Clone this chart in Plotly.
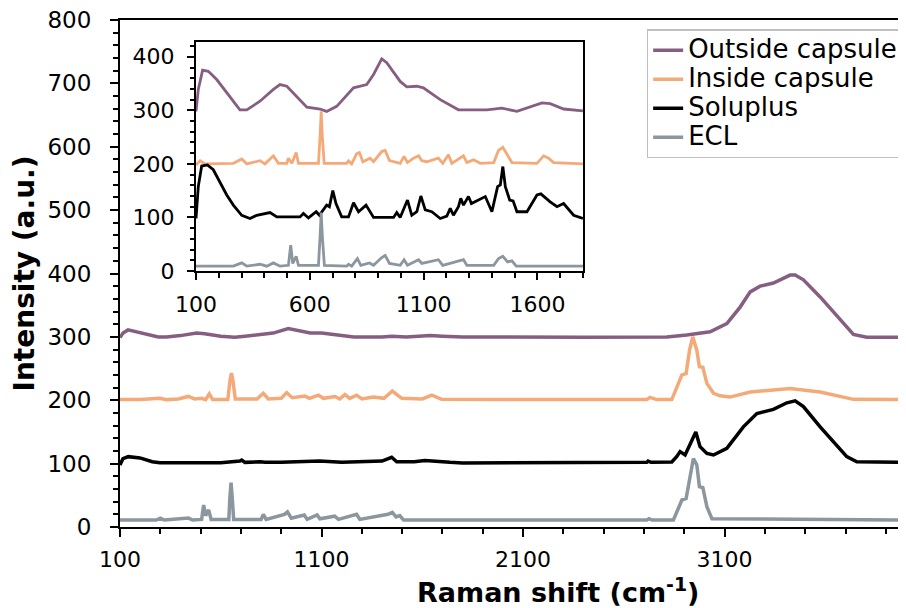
import plotly.graph_objects as go

# ---------------- main panel data (full range) ----------------
outside_x = [100, 115, 140, 170, 230, 290, 330, 400, 480, 520, 600, 670, 720, 800, 860, 935, 1000, 1044, 1100, 1180,
             1260, 1400, 1450, 1520, 1640, 1700, 1800, 2400, 2813, 2912, 2960, 3028, 3111, 3177, 3227, 3276, 3342,
             3425, 3450, 3491, 3574, 3657, 3706, 3739, 3805, 4000]
outside_y = [299, 306, 311, 309, 304, 300, 300, 302, 306, 305, 301, 299.5, 301, 304, 306, 313, 308, 306, 306, 303,
             300, 300, 301, 300, 302, 301, 300, 299.5, 300, 303, 305.5, 308, 321, 347, 371, 380, 385,
             397.5, 397.5, 390, 363, 334, 316, 304, 299.5, 299.5]

inside_x = [100, 200, 298, 330, 389, 439, 470, 505, 525, 543, 560, 635, 646, 653, 660, 672, 780, 811, 836, 900, 927,
            955, 1018, 1040, 1084, 1110, 1167, 1190, 1216, 1240, 1274, 1300, 1357, 1410, 1451, 1498, 1600, 1647, 1696,
            2200, 2714, 2730, 2763, 2838, 2862, 2888, 2909, 2926, 2942, 2962, 2975, 2992, 3012, 3045, 3078, 3127,
            3227, 3425, 3574, 3739, 4000]
inside_y = [201, 201, 203, 201, 202, 206, 202, 203, 201, 210, 201, 201, 232, 243, 232, 202, 202, 211, 202, 203, 212,
            204, 206.5, 203, 208, 203, 206, 202, 209, 203, 208, 202, 205, 203, 214.5, 203, 202, 208, 201.5,
            201, 201, 204.5, 201, 201, 218.7, 240, 242, 279, 300, 279, 253, 252, 226.6, 211, 207, 205,
            213, 218.7, 213, 201.4, 201]

solu_x = [100, 115, 141, 199, 260, 298, 600, 650, 695, 704, 720, 795, 820, 900, 1026, 1090, 1200, 1300, 1400, 1448,
          1473, 1560, 1613, 1737, 1800, 2714, 2720, 2735, 2838, 2862, 2879, 2904, 2937, 2957, 2978, 3012, 3045,
          3111, 3193, 3260, 3342, 3409, 3450, 3491, 3574, 3657, 3706, 3756, 4000]
solu_y = [98, 108, 111, 109, 103, 101.4, 101.5, 102.5, 104, 105.7, 102, 103, 102, 102, 103, 104, 102, 103, 104, 110,
          103, 103, 105, 102, 101, 102, 104, 102, 102.5, 111, 119, 113.6, 137, 150, 126.7, 116, 113.6,
          124, 158, 179, 185.6, 196, 199, 190, 158, 129, 111, 103, 102]

ecl_x = [100, 280, 300, 320, 440, 460, 505, 515, 525, 540, 552, 640, 645, 651, 657, 664, 800, 811, 825, 916, 931,
         950, 1014, 1029, 1078, 1092, 1165, 1184, 1274, 1290, 1430, 1451, 1470, 1488, 1507, 2714, 2725, 2740, 2846,
         2866, 2888, 2909, 2929, 2945, 2962, 2975, 2992, 3012, 3037, 4000]
ecl_y = [11, 11, 14, 11, 14, 11, 12, 34.7, 18, 27, 12, 12, 45, 70, 45, 12, 12, 20, 12, 20, 24,
         14, 19, 12, 19, 13, 17, 12, 20, 12, 20, 23, 16, 18, 11, 11, 13, 11, 11,
         27, 42.6, 45, 84.7, 108, 98, 63.6, 62, 32, 13, 11]

# ---------------- inset data (fingerprint region, rescaled) ----------------
in_out_x = [100, 110, 129, 154, 191, 235, 293, 323, 381, 440, 469, 499, 543, 587, 645, 674, 718, 792, 850, 880, 916,
            938, 997, 1026, 1070, 1099, 1173, 1253, 1378, 1444, 1510, 1568, 1620, 1656, 1715, 1800]
in_out_y = [298, 339, 375, 373, 357.5, 332.5, 301, 301, 317, 339, 348, 345, 326, 306, 302.5, 298, 307.5, 342, 348,
            367, 396, 389, 354, 344, 345, 342, 320, 301, 301, 304, 298, 306, 314, 312.5, 302.5, 299]

in_in_x = [100, 118, 140, 264, 301, 323, 381, 403, 440, 462, 499, 506, 521, 540, 550, 638, 645, 650, 655, 663, 762,
           770, 784, 806, 818, 833, 865, 880, 916, 931, 950, 997, 1014, 1029, 1056, 1078, 1092, 1114, 1165, 1184,
           1209, 1224, 1275, 1290, 1319, 1349, 1408, 1429, 1448, 1466, 1488, 1598, 1627, 1649, 1671, 1800]
in_in_y = [198, 205.6, 200, 201, 209, 200, 206, 200, 215, 201, 201, 210.6, 201, 221, 201, 201, 251, 298, 251, 201, 201,
           205.6, 200, 219, 221, 204, 210.6, 204, 223, 225, 206, 201, 214, 202.5, 210.6, 215, 206, 204, 210.6, 201,
           217, 201, 215, 202.5, 207.5, 201, 202.5, 225, 231, 217, 202.5, 201, 215, 210.6, 202.5, 200]

in_solu_x = [100, 110, 125, 150, 176, 206, 235, 264, 301, 337, 367, 425, 455, 557, 572, 594, 628, 642, 674, 686, 701,
             715, 740, 770, 792, 814, 847, 880, 968, 982, 997, 1029, 1048, 1070, 1088, 1107, 1136, 1173, 1202, 1217,
             1231, 1253, 1263, 1275, 1297, 1310, 1341, 1371, 1400, 1425, 1437, 1448, 1459, 1478, 1493, 1510, 1554,
             1598, 1615, 1656, 1686, 1715, 1759, 1800]
in_solu_y = [98, 157.5, 196, 198, 189, 164, 142, 123, 104, 98, 104, 109, 101, 101, 107.5, 99, 110.6, 104, 123, 120,
             150, 126, 101, 101, 127.5, 110.6, 123, 100, 100, 109, 100, 132.5, 104, 110.6, 140, 114, 110.6, 98, 102.5,
             117, 104, 120, 135.6, 123, 139, 126, 132.5, 139, 110.6, 157.5, 160.6, 195, 157.5, 132.5, 131, 110.6,
             110.6, 142, 144, 129, 120, 126, 104, 98]

in_ecl_x = [100, 264, 301, 323, 381, 411, 440, 469, 506, 516, 525, 540, 550, 638, 645, 650, 655, 664, 762, 770, 784,
            809, 824, 862, 880, 916, 931, 950, 997, 1014, 1029, 1056, 1078, 1092, 1165, 1184, 1275, 1290, 1408, 1429,
            1448, 1469, 1488, 1507, 1800]
in_ecl_y = [9, 9, 15, 9, 12.5, 9, 15, 9, 10.6, 48, 14, 27.5, 10.6, 10.6, 64, 109, 64, 10.6, 9, 12.5, 9,
            23, 10.6, 15, 10.6, 25, 29, 14, 10.6, 21, 10.6, 17, 21, 14, 21, 10.6, 21, 10.6, 10.6, 23,
            27.5, 17, 19, 9, 9]

names = ["Outside capsule", "Inside capsule", "Soluplus", "ECL"]
colors = ["#865e82", "#f4aa78", "#000000", "#8c969e"]
x_title = "Raman shift (cm<sup>-1</sup>)"
y_title = "Intensity (a.u.)"

main_sets = [(outside_x, outside_y), (inside_x, inside_y), (solu_x, solu_y), (ecl_x, ecl_y)]
inset_sets = [(in_out_x, in_out_y), (in_in_x, in_in_y), (in_solu_x, in_solu_y), (in_ecl_x, in_ecl_y)]

FONT = "DejaVu Sans"
fig = go.Figure()
for (x, y), n, c in zip(main_sets, names, colors):
    fig.add_trace(go.Scatter(x=x, y=y, mode="lines",
                             name='<span style="font-size:26px">' + n + '</span>',
                             line=dict(color=c, width=3.5), xaxis="x", yaxis="y"))
for (x, y), n, c in zip(inset_sets, names, colors):
    fig.add_trace(go.Scatter(x=x, y=y, mode="lines", name=n, showlegend=False,
                             line=dict(color=c, width=2.8), xaxis="x2", yaxis="y2"))

axis_common = dict(showline=True, linecolor="black", linewidth=2, showgrid=False, zeroline=False,
                   ticks="outside", tickcolor="black", tickwidth=2, automargin=False,
                   ticklabeloverflow="allow")

fig.update_layout(
    template="none",
    width=906, height=608,
    # page body adds an 8px offset, so margins are shifted by 8px
    margin=dict(l=112, r=8, t=12, b=89, autoexpand=False),
    paper_bgcolor="white", plot_bgcolor="white",
    font=dict(family=FONT, color="black", size=22),
    xaxis=dict(**axis_common, range=[100, 4000], tick0=100, dtick=1000, ticklen=8, mirror=True,
               ticklabelstandoff=4,
               minor=dict(dtick=200, tick0=100, ticks="outside", ticklen=5, tickcolor="black", tickwidth=2),
               tickfont=dict(size=22)),
    yaxis=dict(**axis_common, range=[0, 800], dtick=100, ticklen=8, ticklabelstandoff=14,
               minor=dict(dtick=20, ticks="outside", ticklen=5, tickcolor="black", tickwidth=2),
               tickfont=dict(size=23),
               title=dict(text="<b>" + y_title + "</b>", font=dict(size=28), standoff=6)),
    xaxis2=dict(**axis_common, domain=[0.0967, 0.589], anchor="y2", range=[100, 1800], tick0=100, dtick=500,
                ticklen=7, mirror=True, ticklabelstandoff=6,
                minor=dict(dtick=100, tick0=100, ticks="outside", ticklen=5, tickcolor="black", tickwidth=2),
                tickfont=dict(size=22)),
    yaxis2=dict(**axis_common, domain=[0.505, 0.957], anchor="x2", range=[0, 428], dtick=100, ticklen=7,
                mirror=True, ticklabelstandoff=8,
                minor=dict(dtick=20, ticks="outside", ticklen=4, tickcolor="black", tickwidth=2),
                tickfont=dict(size=22)),
    legend=dict(x=0.997, xanchor="right", y=0.982, yanchor="top", bgcolor="white",
                bordercolor="#bfbfbf", borderwidth=1.5, font=dict(size=20), tracegroupgap=0),
    showlegend=True,
    annotations=[dict(text="<b>" + x_title + "</b>", xref="paper", yref="paper",
                      x=(558 - 120) / 786, y=-0.125, xanchor="center", yanchor="middle",
                      showarrow=False, font=dict(size=27))],
)

fig.write_html("out.html")
